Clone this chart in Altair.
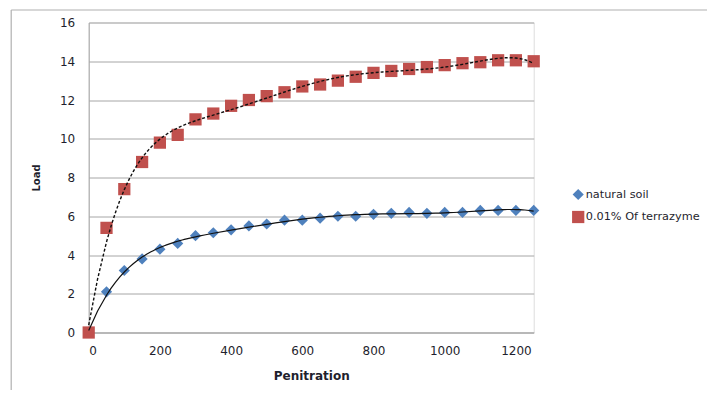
import altair as alt
import pandas as pd

penetration = [0, 50, 100, 150, 200, 250, 300, 350, 400, 450, 500, 550, 600,
               650, 700, 750, 800, 850, 900, 950, 1000, 1050, 1100, 1150, 1200, 1250]
natural_soil = [0.0, 2.1, 3.2, 3.8, 4.3, 4.6, 5.0, 5.15, 5.3, 5.5, 5.6, 5.8, 5.8,
                5.9, 6.0, 6.0, 6.1, 6.15, 6.2, 6.15, 6.2, 6.2, 6.3, 6.3, 6.3, 6.3]
terrazyme = [0.0, 5.4, 7.4, 8.8, 9.8, 10.2, 11.0, 11.3, 11.7, 12.0, 12.2, 12.4, 12.7,
             12.8, 13.0, 13.2, 13.4, 13.5, 13.6, 13.7, 13.8, 13.9, 13.95, 14.05, 14.05, 14.0]
series_names = ["natural soil", "0.01% Of terrazyme"]
series_colors = ["#4F81BD", "#C0504D"]
x_ticks = [0, 200, 400, 600, 800, 1000, 1200]
y_ticks = [0, 2, 4, 6, 8, 10, 12, 14, 16]

df = pd.DataFrame({
    "Penitration": penetration * 2,
    "Load": natural_soil + terrazyme,
    "series": [series_names[0]] * len(penetration) + [series_names[1]] * len(penetration),
})

FONT = "DejaVu Sans"
GRID = "#a6a6a6"
TXT = "#1f1f2e"
W, H = 445, 310
PL, PT = 80.7, 14.5

x_axis = alt.Axis(values=x_ticks, format="d", grid=False, ticks=False, domain=True,
                  domainColor=GRID, labelPadding=13, labelFontSize=12,
                  labelColor=TXT, titleFontSize=12, titleFontWeight="bold",
                  titleColor=TXT, titleY=38, labelFont=FONT, titleFont=FONT,
                  labelOverlap=False)
y_axis = alt.Axis(values=y_ticks, grid=True, gridColor=GRID, ticks=False,
                  domain=True, domainColor=GRID, labelPadding=14,
                  labelFontSize=12, labelColor=TXT, titleFontSize=10,
                  titleFontWeight="bold", titleColor=TXT,
                  titleX=-47, titleY=155, labelFont=FONT, titleFont=FONT,
                  labelOverlap=False)
x_scale = alt.Scale(domain=[0, 1250], nice=False, zero=False)
y_scale = alt.Scale(domain=[0, 16], nice=False)

x_enc = alt.X("Penitration:Q", title="Penitration", scale=x_scale, axis=x_axis)
y_enc = alt.Y("Load:Q", title="Load", scale=y_scale, axis=y_axis)

base = alt.Chart(df)

points = base.mark_point(filled=True, opacity=1).encode(
    x=x_enc, y=y_enc,
    color=alt.Color("series:N", scale=alt.Scale(domain=series_names, range=series_colors),
                    title=None,
                    legend=alt.Legend(orient="none", legendX=483, legendY=166,
                                      labelFont=FONT, labelFontSize=11.3, labelColor=TXT,
                                      symbolSize=60, rowPadding=10, labelOffset=1,
                                      padding=0, symbolStrokeWidth=0)),
    shape=alt.Shape("series:N", scale=alt.Scale(domain=series_names, range=["diamond", "square"]),
                    title=None),
    size=alt.Size("series:N", scale=alt.Scale(domain=series_names, range=[125, 150]), legend=None),
)

trend_blue = base.transform_filter(
    alt.datum.series == series_names[0]
).transform_regression(
    "Penitration", "Load", method="poly", order=6
).mark_line(color="#111", strokeWidth=1.2).encode(x=x_enc, y=y_enc)

trend_red = base.transform_filter(
    alt.datum.series == series_names[1]
).transform_regression(
    "Penitration", "Load", method="poly", order=6
).mark_line(color="#111", strokeWidth=1.4, strokeDash=[3, 2]).encode(x=x_enc, y=y_enc)

frame_left = alt.Chart(pd.DataFrame({"a": [0]})).mark_rule(color="#b0b0b0", strokeWidth=1.2).encode(
    x=alt.value(-77.5), y=alt.value(-12.5), y2=alt.value(370))
frame_top = alt.Chart(pd.DataFrame({"a": [0]})).mark_rule(color="#b0b0b0", strokeWidth=1.2).encode(
    x=alt.value(-77.5), x2=alt.value(620), y=alt.value(-12.5))

chart = alt.layer(frame_left, frame_top, points, trend_blue, trend_red).properties(
    width=W, height=H,
    autosize=alt.AutoSizeParams(type="none"),
    padding={"left": PL, "top": PT, "right": 699 - PL - W, "bottom": 383 - PT - H - 1},
).configure_view(stroke=None).configure(background="white")

chart.save("out.html", embed_options={"renderer": "svg", "actions": False})
